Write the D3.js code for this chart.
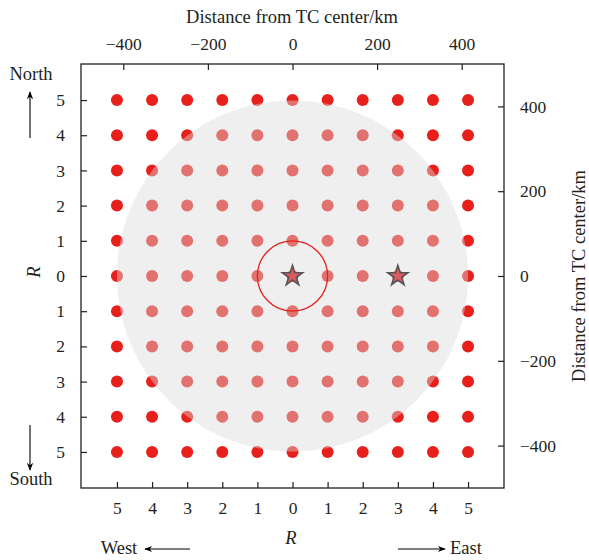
<!DOCTYPE html>
<html>
<head>
<meta charset="utf-8">
<script src="https://cdn.jsdelivr.net/npm/d3@7"></script>
<style>
  body { margin: 0; background: #fff; }
  svg { display: block; }
  text { font-family: "Liberation Serif", "DejaVu Serif", serif; fill: #231f20; }
</style>
</head>
<body>
<svg id="chart" width="589" height="560"></svg>
<script>
// Grid of sample points in units of R, and the spacing of one R step in km
const rSteps = [-5, -4, -3, -2, -1, 0, 1, 2, 3, 4, 5];
const rKm = 83;
// Distance ticks (km)
const kmTicks = [-400, -200, 0, 200, 400];
// Radius (in R units) of the shaded area and of the inner ring
const shadeRadiusR = 5;
const ringRadiusR = 1;
// Positions of the star markers (in R units)
const stars = [{ rx: 0, ry: 0 }, { rx: 3, ry: 0 }];

const svg = d3.select("#chart");
const plotL = 81, plotR = 504, plotT = 64, plotB = 488;

const x = d3.scaleLinear().domain([-500, 500]).range([plotL, plotR]);
const y = d3.scaleLinear().domain([-500, 500]).range([plotB, plotT]);
const px = d3.scaleLinear().domain([0, 1]).range([0, x(rKm) - x(0)]);

const points = [];
rSteps.forEach(ry => rSteps.forEach(rx => points.push({ rx, ry })));

// sample points
svg.append("g").selectAll("circle").data(points).join("circle")
  .attr("cx", d => x(d.rx * rKm))
  .attr("cy", d => y(d.ry * rKm))
  .attr("r", 6)
  .attr("fill", "#e8201c");

// translucent shaded disk laid over the points
svg.append("circle")
  .attr("cx", x(0)).attr("cy", y(0))
  .attr("r", px(shadeRadiusR))
  .attr("fill", "rgb(218,218,218)")
  .attr("fill-opacity", 0.44);

// inner ring
svg.append("circle")
  .attr("cx", x(0)).attr("cy", y(0))
  .attr("r", px(ringRadiusR))
  .attr("fill", "none")
  .attr("stroke", "#e8201c")
  .attr("stroke-width", 1.3);

// star markers
svg.append("g").selectAll("path").data(stars).join("path")
  .attr("d", d3.symbol().type(d3.symbolStar).size(125))
  .attr("transform", d => `translate(${x(d.rx * rKm)},${y(d.ry * rKm)})`)
  .attr("fill", "#df5a5a")
  .attr("stroke", "#555")
  .attr("stroke-width", 1.6)
  .attr("stroke-linejoin", "miter");

// frame
svg.append("rect")
  .attr("x", plotL).attr("y", plotT)
  .attr("width", plotR - plotL).attr("height", plotB - plotT)
  .attr("fill", "none").attr("stroke", "#231f20").attr("stroke-width", 1.3);

const fmtKm = d => d < 0 ? "\u2212" + Math.abs(d) : String(d);
const styleAxis = g => {
  g.select(".domain").remove();
  g.selectAll(".tick line").attr("stroke", "#231f20").attr("stroke-width", 1.2);
  g.selectAll(".tick text").style("font-family", "Liberation Serif, serif")
    .style("font-size", "17.5px").attr("fill", "#231f20");
};

// top axis (km)
svg.append("g").attr("transform", `translate(0,${plotT})`)
  .call(d3.axisTop(x).tickValues(kmTicks).tickFormat(fmtKm).tickSizeInner(-6).tickPadding(14))
  .call(styleAxis);

// right axis (km)
svg.append("g").attr("transform", `translate(${plotR},0)`)
  .call(d3.axisRight(y).tickValues(kmTicks).tickFormat(fmtKm).tickSizeInner(-6).tickPadding(16))
  .call(styleAxis);

// bottom axis (R)
svg.append("g").attr("transform", `translate(0,${plotB})`)
  .call(d3.axisBottom(x).tickValues(rSteps.map(r => r * rKm)).tickFormat(d => Math.round(Math.abs(d) / rKm)).tickSizeInner(-6).tickPadding(14))
  .call(styleAxis);

// left axis (R)
svg.append("g").attr("transform", `translate(${plotL},0)`)
  .call(d3.axisLeft(y).tickValues(rSteps.map(r => r * rKm)).tickFormat(d => Math.round(Math.abs(d) / rKm)).tickSizeInner(-6).tickPadding(16))
  .call(styleAxis);

// titles
const txt = (tx, ty, s, opts = {}) => {
  const t = svg.append("text").attr("x", tx).attr("y", ty).text(s)
    .attr("text-anchor", opts.anchor || "middle")
    .style("font-size", (opts.size || 18.5) + "px");
  if (opts.italic) t.style("font-style", "italic");
  if (opts.rotate) t.attr("transform", `rotate(${opts.rotate},${tx},${ty})`);
  return t;
};
txt(292, 23, "Distance from TC center/km");
txt(585, 276, "Distance from TC center/km", { rotate: -90 });
txt(291, 544, "R", { italic: true });
txt(40, 272, "R", { italic: true, rotate: -90 });
txt(31, 80, "North");
txt(31, 485, "South");
txt(119, 554, "West");
txt(466, 554, "East");

// direction arrows
const defs = svg.append("defs");
defs.append("marker").attr("id", "head")
  .attr("viewBox", "0 0 10 10").attr("refX", 9).attr("refY", 5)
  .attr("markerWidth", 8).attr("markerHeight", 8).attr("markerUnits", "userSpaceOnUse")
  .attr("orient", "auto")
  .append("path").attr("d", "M0,1 L10,5 L0,9 L3,5 Z").attr("fill", "#000");

const arrow = (x1, y1, x2, y2) => svg.append("line")
  .attr("x1", x1).attr("y1", y1).attr("x2", x2).attr("y2", y2)
  .attr("stroke", "#000").attr("stroke-width", 1.1)
  .attr("marker-end", "url(#head)");
arrow(30, 138, 30, 92);
arrow(30, 425, 30, 470);
arrow(190, 549, 145, 549);
arrow(398, 549, 445, 549);
</script>
</body>
</html>
